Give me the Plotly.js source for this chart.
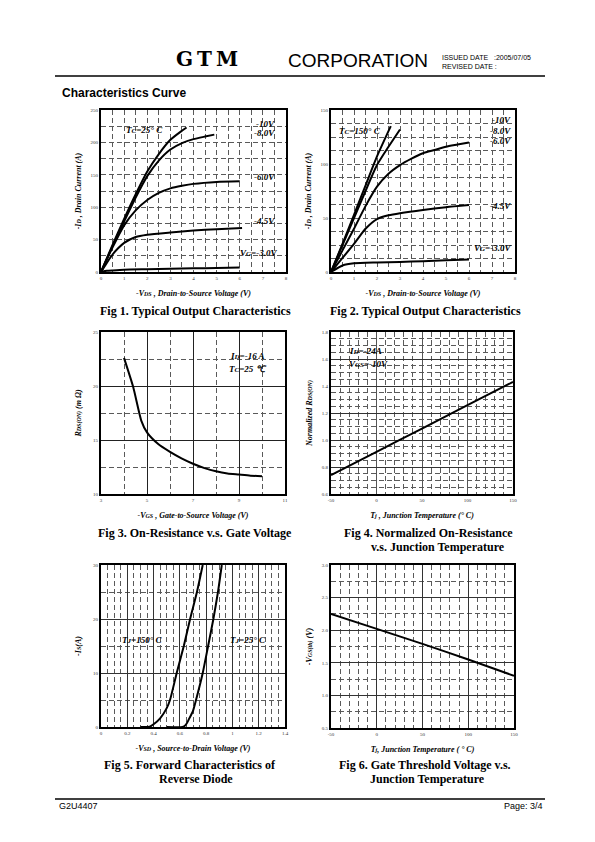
<!DOCTYPE html>
<html>
<head>
<meta charset="utf-8">
<script src="https://cdn.plot.ly/plotly-3.0.1.min.js"></script>
<style>
html,body{margin:0;padding:0;background:#fff;}
#chart{width:595px;height:842px;}
</style>
</head>
<body>
<div id="chart"></div>
<script>
// ---------- DATA ----------
// Fig 1: Typical output characteristics, Tc = 25 C
const f1_vds_10 = [0, 0.5, 1, 1.5, 2, 2.5, 3, 3.5, 3.7];
const f1_id_10  = [0, 42, 82, 120, 155, 182, 204, 218, 223];
const f1_vds_8  = [0, 0.5, 1, 1.5, 2, 2.5, 3, 3.5, 4, 4.5, 4.9];
const f1_id_8   = [0, 40, 78, 115, 148, 172, 189, 199, 205, 209, 212];
const f1_vds_6  = [0, 0.5, 1, 1.5, 2, 2.5, 3, 3.5, 4, 5, 6];
const f1_id_6   = [0, 38, 72, 95, 111, 122, 129, 133, 136, 139, 140];
const f1_vds_45 = [0, 0.25, 0.5, 0.75, 1, 1.5, 2, 3, 4, 5, 6.1];
const f1_id_45  = [0, 14, 27, 37, 45, 54, 57.5, 61, 64, 66, 68];
const f1_vds_3  = [0, 0.25, 0.5, 1, 2, 3, 4, 5, 6];
const f1_id_3   = [0, 1.8, 2.5, 3.6, 4.3, 5, 5.6, 6.3, 7];
const f1_xticks = [0, 1, 2, 3, 4, 5, 6, 7, 8];
const f1_yticks = [0, 50, 100, 150, 200, 250];

// Fig 2: Typical output characteristics, Tc = 150 C
const f2_vds_10 = [0, 0.5, 1, 1.5, 2, 2.6];
const f2_id_10  = [0, 26, 53, 80, 107, 135];
const f2_vds_8  = [0, 0.5, 1, 1.5, 2, 2.5, 3];
const f2_id_8   = [0, 25, 50, 75, 99, 116, 132];
const f2_vds_6  = [0, 0.5, 1, 1.5, 2, 2.5, 3, 3.5, 4, 4.5, 5, 5.5, 6];
const f2_id_6   = [0, 20, 40, 61, 79, 91, 99, 105, 110, 113, 116, 118, 120];
const f2_vds_45 = [0, 0.5, 1, 1.5, 2, 2.5, 3, 4, 5, 6];
const f2_id_45  = [0, 13, 26, 40, 49, 52.5, 54.5, 57.5, 60, 62];
const f2_vds_3  = [0, 0.5, 1, 2, 3, 4, 5, 6];
const f2_id_3   = [0, 6, 8, 8.8, 9.3, 10, 10.8, 11.5];
const f2_xticks = [0, 1, 2, 3, 4, 5, 6, 7, 8];
const f2_yticks = [0, 50, 100, 150];

// Fig 3: On-resistance vs gate voltage
const f3_vgs = [4.0, 4.4, 4.75, 5, 5.5, 6, 6.5, 7, 7.5, 8, 8.5, 9, 9.5, 10];
const f3_rds = [22.6, 19.9, 16.8, 15.7, 14.6, 13.9, 13.3, 12.8, 12.4, 12.1, 11.9, 11.8, 11.7, 11.65];
const f3_xticks = [3, 5, 7, 9, 11];
const f3_yticks = [10, 15, 20, 25];

// Fig 4: Normalized on-resistance vs junction temperature
const f4_tj = [-50, 0, 50, 100, 150];
const f4_rn = [0.74, 0.912, 1.085, 1.258, 1.43];
const f4_xticks = [-50, 0, 50, 100, 150];
const f4_yticks = [0.6, 0.8, 1.0, 1.2, 1.4, 1.6, 1.8];
const f4_yticktext = ["0.6", "0.8", "1.0", "1.2", "1.4", "1.6", "1.8"];

// Fig 5: Forward characteristics of reverse diode
const f5_vsd_150 = [0.30, 0.37, 0.40, 0.45, 0.50, 0.525, 0.576, 0.63, 0.678, 0.73, 0.774];
const f5_is_150  = [0, 0.05, 0.5, 1.6, 3.5, 5, 10, 15, 20, 25, 30];
const f5_vsd_25  = [0.50, 0.62, 0.645, 0.67, 0.70, 0.723, 0.774, 0.815, 0.855, 0.89, 0.919];
const f5_is_25   = [0, 0, 0.4, 1.5, 3, 5, 10, 15, 20, 25, 30];
const f5_xticks = [0, 0.2, 0.4, 0.6, 0.8, 1, 1.2, 1.4];
const f5_xticktext = ["0", "0.2", "0.4", "0.6", "0.8", "1", "1.2", "1.4"];
const f5_yticks = [0, 10, 20, 30];

// Fig 6: Gate threshold voltage vs junction temperature
const f6_tj  = [-50, 0, 50, 100, 150];
const f6_vth = [2.25, 2.02, 1.79, 1.55, 1.30];
const f6_xticks = [-50, 0, 50, 100, 150];
const f6_yticks = [0.5, 1.0, 1.5, 2.0, 2.5, 3.0];
const f6_yticktext = ["0.5", "1.0", "1.5", "2.0", "2.5", "3.0"];

// ---------- LAYOUT HELPERS ----------
const W = 595, H = 842;
const px = v => v / W;
const py = v => 1 - v / H;
const SERIF = 'Liberation Serif, Times New Roman, serif';
const SANS = 'Liberation Sans, Arial, sans-serif';
const DASH = '5px,3px';
const GRID = '#5a5a5a';

// small subscript-like text with an explicit pixel size
function sb(t, size) {
  return '<span style="font-size:' + size + 'px">' + t + '</span>';
}

function axis(o) {
  const a = {
    showline: true, mirror: true, linecolor: '#000', linewidth: 2,
    ticks: '', showgrid: true, gridcolor: GRID, gridwidth: 1, griddash: DASH,
    zeroline: false, automargin: false, fixedrange: true, tickmode: 'array',
    tickfont: {family: SERIF, size: 5, color: '#333'}
  };
  return Object.assign(a, o);
}
function title(text, standoff) {
  return {text: '<b><i>' + text + '</i></b>', font: {family: SERIF, size: 8, color: '#000'}, standoff: standoff};
}
function minor(d) {
  return {dtick: d, showgrid: true, gridcolor: GRID, gridwidth: 1, griddash: DASH, ticks: ''};
}
function line(x, y, xa, ya) {
  return {x: x, y: y, xaxis: xa, yaxis: ya, mode: 'lines', hoverinfo: 'skip', showlegend: false,
          line: {color: '#000', width: 2, shape: 'spline', smoothing: 0.6}};
}
function lab(text, x, y, xr, yr, anchor) {
  return {text: '<b><i>' + text + '</i></b>', x: x, y: y, xref: xr, yref: yr, showarrow: false,
          xanchor: anchor || 'center', yanchor: 'middle', font: {family: SERIF, size: 9, color: '#000'}};
}
function cap(text, x, y) {
  return {text: '<b>' + text + '</b>', x: px(x), y: py(y), xref: 'paper', yref: 'paper', showarrow: false,
          xanchor: 'center', yanchor: 'middle', font: {family: SERIF, size: 12, color: '#000'}};
}
function ptxt(text, x, y, size, family, anchor) {
  return {text: text, x: px(x), y: py(y), xref: 'paper', yref: 'paper', showarrow: false,
          xanchor: anchor || 'left', yanchor: 'middle', font: {family: family, size: size, color: '#000'}};
}

const traces = [
  line(f1_vds_10, f1_id_10, 'x', 'y'),
  line(f1_vds_8, f1_id_8, 'x', 'y'),
  line(f1_vds_6, f1_id_6, 'x', 'y'),
  line(f1_vds_45, f1_id_45, 'x', 'y'),
  line(f1_vds_3, f1_id_3, 'x', 'y'),
  line(f2_vds_10, f2_id_10, 'x2', 'y2'),
  line(f2_vds_8, f2_id_8, 'x2', 'y2'),
  line(f2_vds_6, f2_id_6, 'x2', 'y2'),
  line(f2_vds_45, f2_id_45, 'x2', 'y2'),
  line(f2_vds_3, f2_id_3, 'x2', 'y2'),
  line(f3_vgs, f3_rds, 'x3', 'y3'),
  line(f4_tj, f4_rn, 'x4', 'y4'),
  line(f5_vsd_150, f5_is_150, 'x5', 'y5'),
  line(f5_vsd_25, f5_is_25, 'x5', 'y5'),
  line(f6_tj, f6_vth, 'x6', 'y6')
];

const layout = {
  width: W, height: H, margin: {l: 0, r: 0, t: 0, b: 0},
  paper_bgcolor: '#fff', plot_bgcolor: '#fff', showlegend: false,
  font: {family: SERIF, color: '#000', size: 10},
  // Fig 1
  xaxis: axis({domain: [px(101), px(286)], range: [0, 8], anchor: 'y', tickvals: f1_xticks, ticktext: f1_xticks.map(String),
               minor: minor(0.5), title: title('-V' + sb('DS', 6) + ' , Drain-to-Source Voltage (V)', 10)}),
  yaxis: axis({domain: [py(272), py(110)], range: [0, 250], anchor: 'x', tickvals: f1_yticks, ticktext: f1_yticks.map(String),
               minor: minor(25), title: title('-I' + sb('D', 6) + ' , Drain Current (A)', 8)}),
  // Fig 2
  xaxis2: axis({domain: [px(331), px(515)], range: [0, 8], anchor: 'y2', tickvals: f2_xticks, ticktext: f2_xticks.map(String),
                minor: minor(0.5), title: title('-V' + sb('DS', 6) + ' , Drain-to-Source Voltage (V)', 10)}),
  yaxis2: axis({domain: [py(272), py(110)], range: [0, 150], anchor: 'x2', tickvals: f2_yticks, ticktext: f2_yticks.map(String),
                minor: minor(12.5), title: title('-I' + sb('D', 6) + ' , Drain Current (A)', 8)}),
  // Fig 3
  xaxis3: axis({domain: [px(101), px(285)], range: [3, 11], anchor: 'y3', tickvals: f3_xticks, ticktext: f3_xticks.map(String),
                griddash: 'solid', gridcolor: '#222', minor: minor(1), title: title('-V' + sb('GS', 6) + ' , Gate-to-Source Voltage (V)', 10)}),
  yaxis3: axis({domain: [py(494), py(332)], range: [10, 25], anchor: 'x3', tickvals: f3_yticks, ticktext: f3_yticks.map(String),
                griddash: 'solid', gridcolor: '#222', minor: minor(2.5), title: title('R' + sb('DS(ON)', 6) + ' (m Ω)', 10)}),
  // Fig 4
  xaxis4: axis({domain: [px(331), px(513)], range: [-50, 150], anchor: 'y4', tickvals: f4_xticks, ticktext: f4_xticks.map(String),
                griddash: 'solid', gridcolor: '#555', minor: minor(10), title: title('T' + sb('j', 6) + ' , Junction Temperature (° C)', 10)}),
  yaxis4: axis({domain: [py(494), py(332)], range: [0.6, 1.8], anchor: 'x4', tickvals: f4_yticks, ticktext: f4_yticktext,
                griddash: 'solid', gridcolor: '#333', minor: minor(0.05), title: title('Normalized R' + sb('DS(ON)', 6), 8)}),
  // Fig 5
  xaxis5: axis({domain: [px(101), px(285)], range: [0, 1.4], anchor: 'y5', tickvals: f5_xticks, ticktext: f5_xticktext,
                griddash: 'solid', gridcolor: '#333', minor: minor(0.05), title: title('-V' + sb('SD', 6) + ' , Source-to-Drain Voltage (V)', 10)}),
  yaxis5: axis({domain: [py(727), py(565)], range: [0, 30], anchor: 'x5', tickvals: f5_yticks, ticktext: f5_yticks.map(String),
                griddash: 'solid', gridcolor: '#333', minor: minor(5), title: title('-I' + sb('S', 6) + '(A)', 10)}),
  // Fig 6
  xaxis6: axis({domain: [px(331), px(514)], range: [-50, 150], anchor: 'y6', tickvals: f6_xticks, ticktext: f6_xticks.map(String),
                griddash: 'solid', gridcolor: '#333', minor: minor(10), title: title('T' + sb('j', 6) + ', Junction Temperature ( ° C)', 10)}),
  yaxis6: axis({domain: [py(728), py(565)], range: [0.5, 3.0], anchor: 'x6', tickvals: f6_yticks, ticktext: f6_yticktext,
                griddash: 'solid', gridcolor: '#333', minor: minor(0.25), title: title('-V' + sb('GS(th)', 6) + ' (V)', 8)}),
  shapes: [
    {type: 'line', xref: 'paper', yref: 'paper', x0: px(55), x1: px(545), y0: py(76), y1: py(76), line: {color: '#000', width: 1.5}},
    {type: 'line', xref: 'paper', yref: 'paper', x0: px(55), x1: px(545), y0: py(799), y1: py(799), line: {color: '#000', width: 1.5}}
  ],
  annotations: [
    // header
    {text: '<b>G\u2009T\u2009M</b>', x: px(207), y: py(59), xref: 'paper', yref: 'paper', showarrow: false,
     xanchor: 'center', yanchor: 'middle', font: {family: 'DejaVu Serif, serif', size: 20, color: '#000'}},
    ptxt('CORPORATION', 358, 60, 19, SANS, 'center'),
    ptxt('ISSUED DATE   :2005/07/05', 440, 57, 7, SANS),
    ptxt('REVISED DATE :', 440, 66, 7, SANS),
    ptxt('<b>Characteristics Curve</b>', 60, 93, 12, SANS),
    ptxt('G2U4407', 57, 806, 9, SANS),
    ptxt('Page: 3/4', 545, 806, 9, SANS, 'right'),
    // captions
    cap('Fig 1. Typical Output Characteristics', 195, 311),
    cap('Fig 2. Typical Output Characteristics', 425, 311),
    cap('Fig 3. On-Resistance v.s. Gate Voltage', 195, 533),
    cap('Fig 4. Normalized On-Resistance', 428, 533),
    cap('v.s. Junction Temperature', 438, 547),
    cap('Fig 5. Forward Characteristics of', 190, 765),
    cap('Reverse Diode', 196, 779),
    cap('Fig 6. Gate Threshold Voltage v.s.', 425, 765),
    cap('Junction Temperature', 427, 779),
    // Fig 1 labels
    lab('T' + sb('C', 7) + '=25° C', 1.9, 219, 'x', 'y'),
    lab('-10V', 7.1, 228, 'x', 'y'),
    lab('-8.0V', 7.05, 214, 'x', 'y'),
    lab('-6.0V', 7.05, 146, 'x', 'y'),
    lab('-4.5V', 7.05, 78, 'x', 'y'),
    lab('V' + sb('G', 7) + '=-3.0V', 6.8, 30, 'x', 'y'),
    // Fig 2 labels
    lab('T' + sb('C', 7) + '=150° C', 1.25, 131, 'x2', 'y2'),
    lab('-10V', 7.42, 141, 'x2', 'y2'),
    lab('-8.0V', 7.35, 131, 'x2', 'y2'),
    lab('-6.0V', 7.35, 121.5, 'x2', 'y2'),
    lab('-4.5V', 7.35, 61, 'x2', 'y2'),
    lab('V' + sb('G', 7) + '=-3.0V', 7.0, 22, 'x2', 'y2'),
    // Fig 3 labels
    lab('I' + sb('D', 7) + '=-16 A', 9.35, 22.8, 'x3', 'y3'),
    lab('T' + sb('C', 7) + '=25 ℃', 9.4, 21.6, 'x3', 'y3'),
    // Fig 4 labels
    lab('I' + sb('D', 7) + '=-24A', -32, 1.66, 'x4', 'y4', 'left'),
    lab('V' + sb('GS', 7) + '=-10V', -32, 1.565, 'x4', 'y4', 'left'),
    // Fig 5 labels
    lab('T' + sb('J', 7) + '=150° C', 0.31, 16.1, 'x5', 'y5'),
    lab('T' + sb('J', 7) + '=25° C', 1.12, 16.1, 'x5', 'y5')
  ]
};

Plotly.newPlot('chart', traces, layout, {staticPlot: true, displayModeBar: false});
</script>
</body>
</html>
